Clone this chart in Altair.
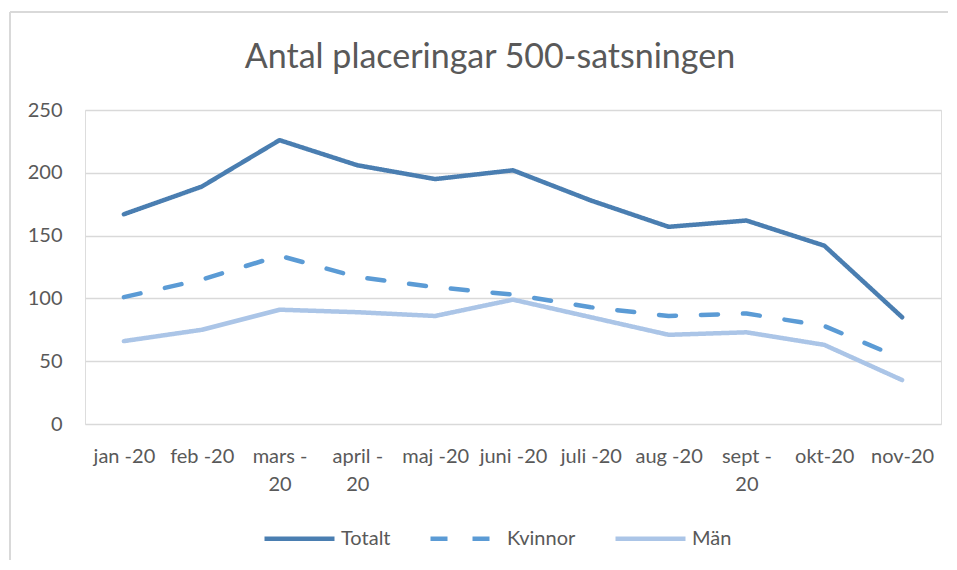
import altair as alt
import pandas as pd

months = ["jan -20", "feb -20", "mars -\n20", "april -\n20", "maj -20", "juni -20",
          "juli -20", "aug -20", "sept -\n20", "okt-20", "nov-20"]
series_names = ["Totalt", "Kvinnor", "Män"]
totalt = [167, 189, 226, 206, 195, 202, 178, 157, 162, 142, 85]
kvinnor = [101, 115, 134, 117, 109, 103, 93, 86, 88, 78, 52]
man = [66, 75, 91, 89, 86, 99, 85, 71, 73, 63, 35]
y_ticks = [0, 50, 100, 150, 200, 250]
colors = ["#4A7EB1", "#5B9BD5", "#ABC5E7"]

rows = []
for name, vals in zip(series_names, [totalt, kvinnor, man]):
    for m, v in zip(months, vals):
        rows.append({"month": m, "serie": name, "value": v})
df = pd.DataFrame(rows)

FONT = "Lato"
GREY = "#595959"

legend = alt.Legend(title=None, orient="none", direction="horizontal",
                    legendX=177, legendY=391,
                    symbolType="stroke", symbolSize=4900,
                    symbolStrokeWidth=4.5, labelFontSize=20,
                    labelFont=FONT, labelColor=GREY, labelOffset=4,
                    columnPadding=30)

lines = alt.Chart(df).mark_line(strokeWidth=4.5, strokeCap="round", strokeJoin="round").encode(
    x=alt.X("month:N", sort=months, title=None,
            axis=alt.Axis(labelAngle=0, labelExpr="split(datum.label, '\\n')",
                          labelFontSize=20, labelColor=GREY, labelFont=FONT,
                          labelPadding=22, labelLineHeight=28, labelBaseline="top",
                          ticks=False, domain=False, grid=False, labelLimit=200)),
    y=alt.Y("value:Q", title=None, scale=alt.Scale(domain=[0, 250], nice=False),
            axis=alt.Axis(values=y_ticks, labelFontSize=20, labelColor=GREY, labelFont=FONT,
                          labelPadding=23, ticks=False, domain=False,
                          gridColor="#D9D9D9", gridWidth=1.5)),
    color=alt.Color("serie:N", sort=series_names,
                    scale=alt.Scale(domain=series_names, range=colors),
                    legend=legend),
    strokeDash=alt.StrokeDash("serie:N", sort=series_names,
                              scale=alt.Scale(domain=series_names,
                                              range=[[1, 0], [17, 25], [1, 0]]),
                              legend=legend),
)

one = pd.DataFrame({"a": [0]})
frame_left = alt.Chart(one).mark_rule(stroke="#D9D9D9", strokeWidth=2).encode(
    x=alt.value(-75), y=alt.value(-98), y2=alt.value(450)
)
frame_top = alt.Chart(one).mark_rule(stroke="#D9D9D9", strokeWidth=2).encode(
    x=alt.value(-75), x2=alt.value(863), y=alt.value(-98)
)

chart = alt.layer(frame_left, frame_top, lines).properties(
    width=856, height=314,
    title=alt.TitleParams("Antal placeringar 500-satsningen", fontSize=34, font=FONT,
                          fontWeight="normal", color=GREY, anchor="middle",
                          frame="group", dx=-23, offset=-64),
    autosize=alt.AutoSizeParams(type="none"),
    padding={"left": 77, "top": 102, "right": 8, "bottom": 138},
).configure_view(stroke=None).configure(background="white")

chart.save("out.html", embed_options={"renderer": "svg", "actions": False})
